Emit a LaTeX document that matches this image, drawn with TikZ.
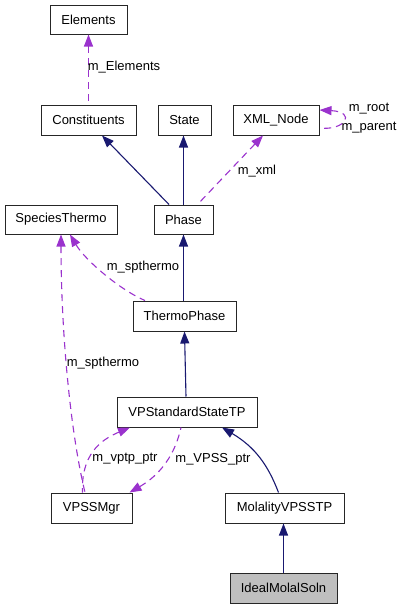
\documentclass[tikz,border=0pt]{standalone}
\usepackage{fontspec}
\setmainfont{Liberation Sans}
\usetikzlibrary{arrows.meta}
\definecolor{inhcol}{HTML}{191970}
\definecolor{depcol}{HTML}{9A32CD}
\begin{document}
\begin{tikzpicture}[x=1pt,y=-1pt,
  cls/.style={draw=black!85,line width=1pt,rectangle,minimum height=30pt,inner sep=0pt,font=\fontsize{13}{15}\selectfont},
  inh/.style={draw=inhcol,line width=1.1pt,{Triangle[length=12pt,width=9pt]}-},
  dep/.style={draw=depcol,line width=1.1pt,dash pattern=on 7pt off 5pt,{Triangle[length=12pt,width=9pt]}-},
  lbl/.style={inner sep=0pt,font=\fontsize{13}{15}\selectfont}]
\useasboundingbox (0,0) rectangle (403,608);
\node[cls,minimum width=77pt,minimum height=29pt] (Elements) at (88.5,19.5) {Elements};
\node[cls,minimum width=95pt] (Constituents) at (88.5,120) {Constituents};
\node[cls,minimum width=53pt] (State) at (184.5,120) {State};
\node[cls,minimum width=86pt] (XML) at (276,120) {XML\_Node};
\node[cls,minimum width=112pt,minimum height=29pt] (Species) at (61,219.5) {SpeciesThermo};
\node[cls,minimum width=59pt,minimum height=29pt] (Phase) at (183.5,219.5) {Phase};
\node[cls,minimum width=103pt] (Thermo) at (184.5,316) {ThermoPhase};
\node[cls,minimum width=140pt] (VPS) at (187,412) {VPStandardStateTP};
\node[cls,minimum width=81pt] (Mgr) at (91.5,508) {VPSSMgr};
\node[cls,minimum width=119pt] (Mol) at (284.5,508) {MolalityVPSSTP};
\node[cls,minimum width=107pt,fill=black!25] (Ideal) at (283.5,588) {IdealMolalSoln};

% Constituents -> Elements
\draw[dep] (Elements.south) -- (Constituents.north);
\node[lbl] (lE) at (124,67) {m\_Elements};
% Phase inheritance
\draw[inh] ([xshift=13.5pt]Constituents.south) -- ([xshift=-14.5pt]Phase.north);
\draw[inh] (Phase.north |- State.south) -- (Phase.north);
\draw[dep] ([xshift=-13pt]XML.south) -- ([xshift=14pt]Phase.north);
\node[lbl] (lx) at (257,171) {m\_xml};
% self loop
\draw[dep] ([yshift=10pt]XML.east) .. controls (357,112) and (345,131) .. ([yshift=-8pt]XML.east);
\node[lbl] (lr) at (369,109) {m\_root};
\node[lbl] (lp) at (369,128) {m\_parent};
% ThermoPhase
\draw[inh] (Phase.south) -- (Phase.south |- Thermo.north);
\draw[dep] ([xshift=9pt]Species.south) .. controls (85,260) and (120,290) .. ([xshift=-39.5pt]Thermo.north);
\node[lbl] (ls1) at (143,267) {m\_spthermo};
% VPSSMgr -> SpeciesThermo
\draw[dep] (Species.south) .. controls (61,330) and (70,430) .. ([xshift=-6.5pt]Mgr.north);
\node[lbl] (ls2) at (103,363) {m\_spthermo};
% VPStandardStateTP
\draw[inh] (Thermo.south) -- ([xshift=-1pt]VPS.north);
\draw[dep] ([xshift=-57pt]VPS.south) .. controls (100,440) and (81,455) .. ([xshift=-9pt]Mgr.north);
\node[lbl] (lv) at (125,459) {m\_vptp\_ptr};
\draw[dep] ([xshift=38pt]Mgr.north) .. controls (160,475) and (175,455) .. ([xshift=-6pt]VPS.south);
\node[lbl] (lV) at (213,459) {m\_VPSS\_ptr};
% Molality
\draw[inh] ([xshift=35pt]VPS.south) .. controls (255,447) and (268,465) .. ([xshift=-6pt]Mol.north);
\draw[inh] (Ideal.north |- Mol.south) -- (Ideal.north);
\end{tikzpicture}
\end{document}
